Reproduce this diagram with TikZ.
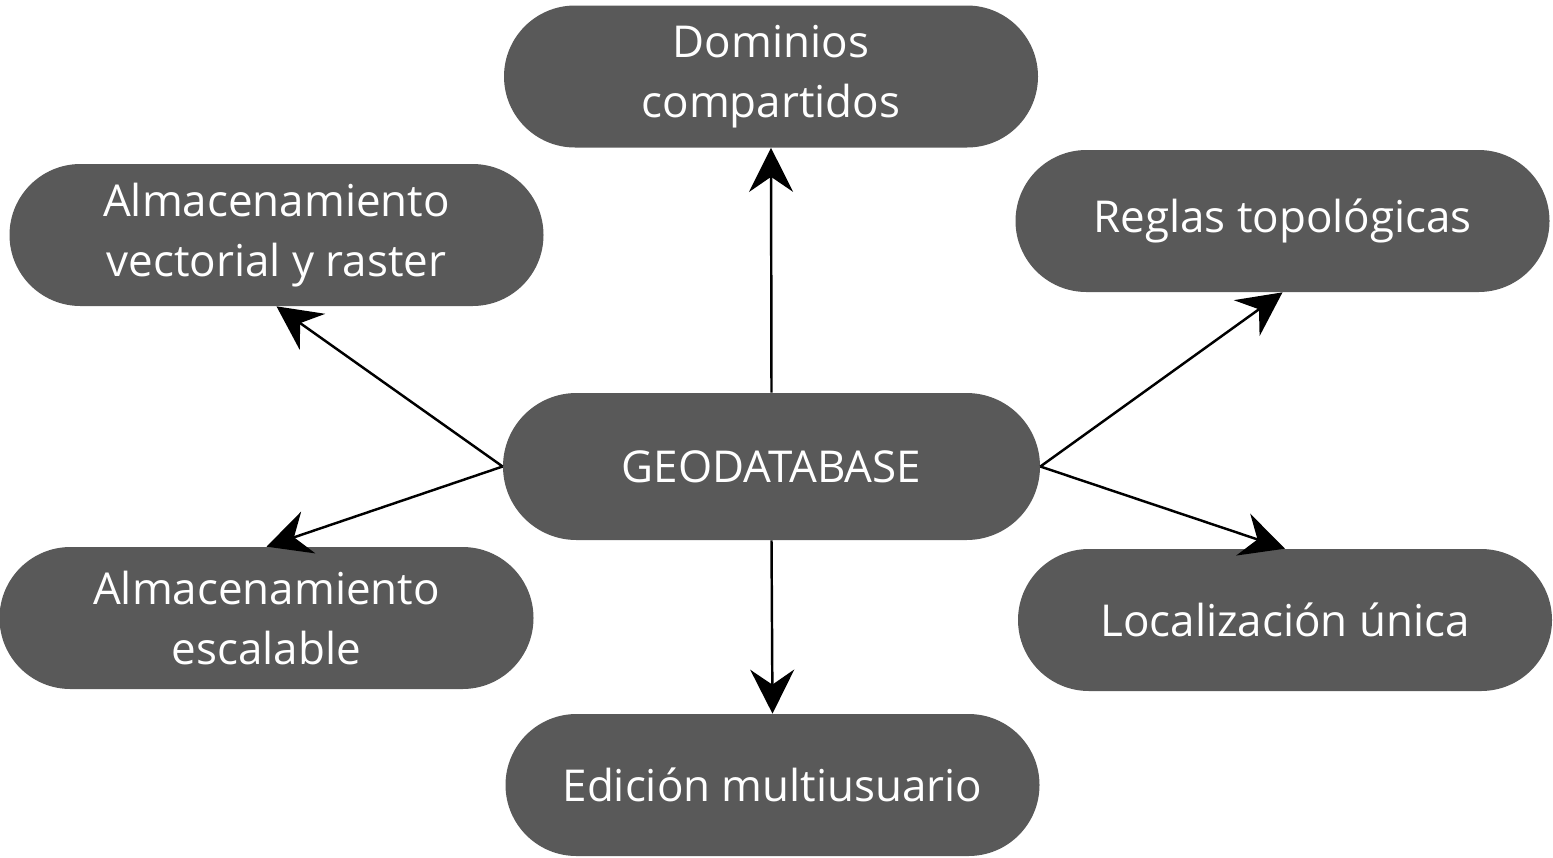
\documentclass[tikz,border=0pt]{standalone}
\usepackage{fontspec}
\setmainfont{Open Sans}
\usetikzlibrary{shapes.misc,arrows.meta}
\definecolor{boxgray}{HTML}{595959}
\tikzset{
  box/.style={rounded rectangle, fill=boxgray, text=white, align=center,
    minimum width=10.68cm, minimum height=2.84cm, inner sep=0pt,
    font=\fontsize{25}{34}\selectfont},
  link/.style={line width=1.4pt, -{Stealth[length=0.88cm,width=0.88cm,inset=0.3cm]}}
}
\begin{document}
\begin{tikzpicture}
\useasboundingbox (0,0) rectangle (31.06,-17.14);
\node[box] (dom) at (15.42,-1.53) {Dominios\\compartidos};
\node[box] (vec) at (5.53,-4.70) {Almacenamiento\\vectorial y raster};
\node[box] (reg) at (25.65,-4.42) {Reglas topológicas};
\node[box, minimum width=10.74cm, minimum height=2.94cm] (geo) at (15.43,-9.33) {GEODATABASE};
\node[box] (esc) at (5.33,-12.36) {Almacenamiento\\escalable};
\node[box] (loc) at (25.70,-12.40) {Localización única};
\node[box] (edi) at (15.45,-15.70) {Edición multiusuario};
\draw[link] (geo.north) -- (dom.south);
\draw[link] (geo.south) -- (edi.north);
\draw[link] (geo.west) -- (vec.south);
\draw[link] (geo.west) -- (esc.north);
\draw[link] (geo.east) -- (reg.south);
\draw[link] (geo.east) -- (loc.north);
\end{tikzpicture}
\end{document}
